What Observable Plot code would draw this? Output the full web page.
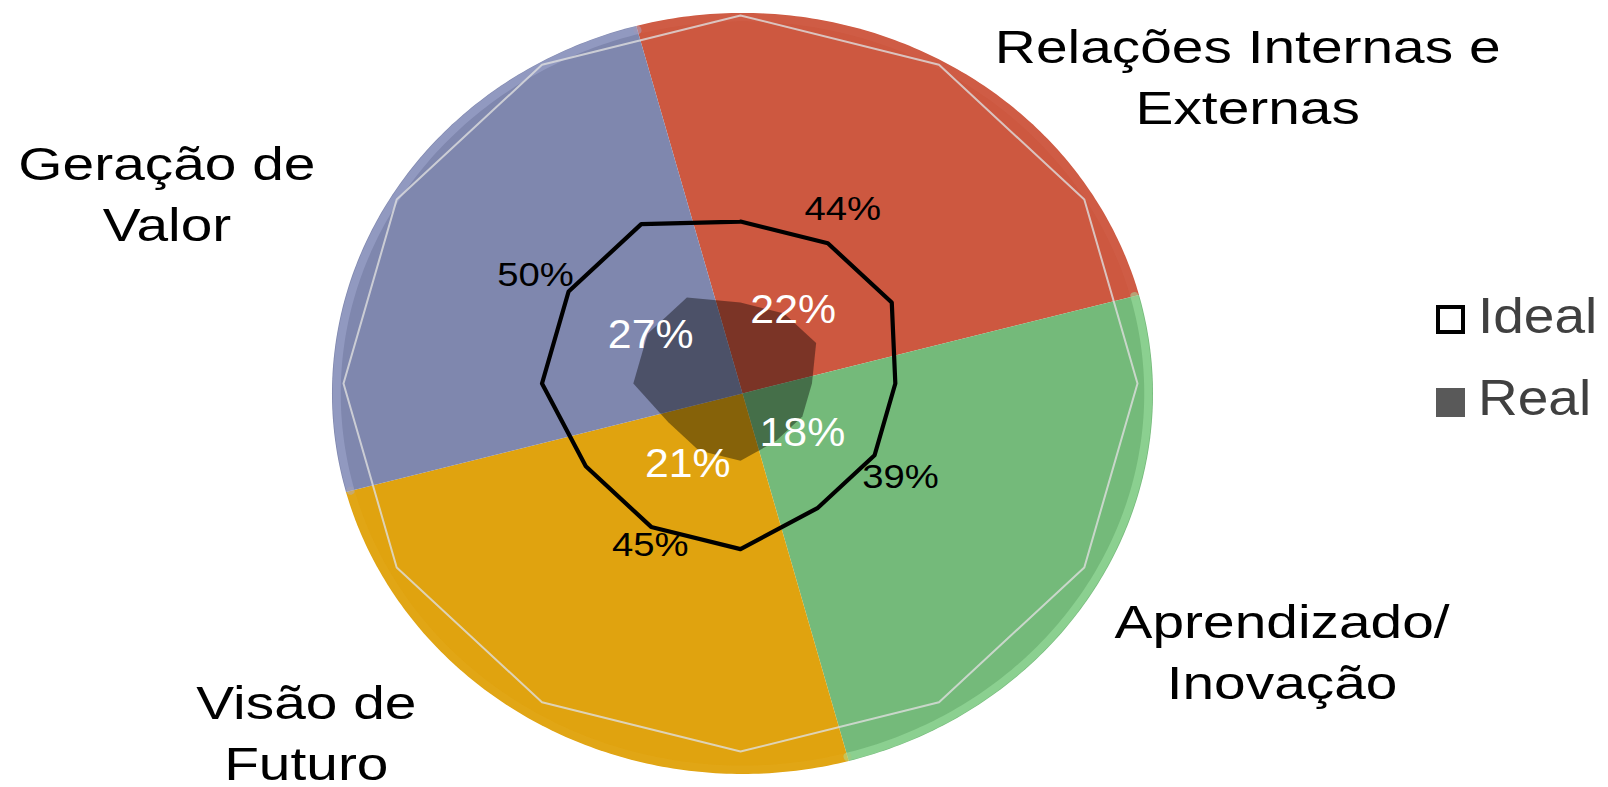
<!DOCTYPE html>
<html>
<head>
<meta charset="utf-8">
<script src="https://cdn.jsdelivr.net/npm/d3@7"></script>
<script src="https://cdn.jsdelivr.net/npm/@observablehq/plot@0.6"></script>
<style>
  html, body { margin: 0; padding: 0; background: #fff; }
  #chart { position: relative; width: 1608px; height: 787px; overflow: hidden;
           font-family: "Liberation Sans", Arial, sans-serif; }
  #legend { position: absolute; left: 1435px; top: 297px; color: #404040; }
  .item { position: relative; height: 82px; }
  .swatch { position: absolute; left: 1px; top: 8px; width: 29px; height: 29px; box-sizing: border-box; }
  .swatch.ideal { border: 4px solid #000; background: #fff; }
  .swatch.real { background: #595959; border: none; top: 9px; }
  .item span { position: absolute; left: 43px; top: -6px; font-size: 50px; line-height: 50px;
               transform: scaleX(1.1); transform-origin: left center; white-space: nowrap; }
</style>
</head>
<body>
<div id="chart"><div id="legend"></div></div>
<script>
// Four dimensions, each spread over three radar spokes
const categories = ["Relações Internas e\nExternas", "Aprendizado/\nInovação", "Visão de\nFuturo", "Geração de\nValor"];
const sliceShares = [25, 25, 25, 25];
const sliceColors = ["#CD5840", "#74BA7A", "#E0A30F", "#7F87AE"];
const spokesPerCategory = 3;
const radarMax = 100;
const idealValues = [44, 44, 44, 39, 39, 39, 45, 45, 45, 50, 50, 50];
const realValues  = [22, 22, 22, 18, 18, 18, 21, 21, 21, 27, 27, 27];
const seriesNames = ["Ideal", "Real"];

// Layout (pixels)
const W = 1608, H = 787;
const cx = 740, cy = 383, rx = 397, ry = 368;
const pieR = 1.034, pieCx = 0.005, pieCy = -0.027;
const categoryNudge = [[269, 123], [129, 95], [-196, 14], [-161, 78]];
const idealNudge = [[15, -23], [26, 33], [-1, 29], [-33, -6]];
const realNudge = [[9, 10], [0, 29], [-11, 27], [3, 14]];

const nSpokes = idealValues.length;
const spokeAngle = i => (2 * Math.PI * i) / nSpokes;
const polar = (r, a) => ({x: r * Math.sin(a), y: r * Math.cos(a)});

function ring(values) {
  const pts = values.map((v, i) => polar(v / radarMax, spokeAngle(i)));
  pts.push(pts[0]);
  return pts;
}
function arcPoints(a, r, withCenter) {
  const pts = withCenter ? [{x: pieCx, y: pieCy}] : [];
  const n = 120;
  for (let k = 0; k <= n; k++) {
    const t = a.startAngle + (a.endAngle - a.startAngle) * k / n;
    pts.push({x: pieCx + r * Math.sin(t), y: pieCy + r * Math.cos(t)});
  }
  if (withCenter) pts.push({x: pieCx, y: pieCy});
  return pts;
}

const arcs = d3.pie().sort(null)
  .startAngle(-Math.PI / 12)
  .endAngle(2 * Math.PI - Math.PI / 12)(sliceShares);

// soft bevel highlight along the rim of each slice
const rimColors = ["#e07a64", "#a2e6a6", "#efbb40", "#a9b0d6"];
const rimOpacity = [0.15, 0.5, 0.12, 0.45];

const font = "Liberation Sans, Arial, sans-serif";
const midSpoke = c => c * spokesPerCategory + 1;

const marks = [];
arcs.forEach((a, i) => {
  marks.push(Plot.line(arcPoints(a, pieR, true), {x: "x", y: "y", fill: sliceColors[i], stroke: "none"}));
});
arcs.forEach((a, i) => {
  marks.push(Plot.line(arcPoints(a, pieR - 0.012, false), {x: "x", y: "y", stroke: rimColors[i], strokeWidth: 8, strokeOpacity: rimOpacity[i]}));
});
// outer gridline of the radar
marks.push(Plot.line(ring(idealValues.map(() => radarMax)), {x: "x", y: "y", stroke: "#dedede", strokeOpacity: 0.8, strokeWidth: 2}));
// Real: filled translucent polygon
marks.push(Plot.line(ring(realValues), {x: "x", y: "y", fill: "#000", fillOpacity: 0.4, stroke: "none"}));
// Ideal: thick black outline
marks.push(Plot.line(ring(idealValues), {x: "x", y: "y", stroke: "#000", strokeWidth: 4.2, strokeLinejoin: "round"}));

categories.forEach((c, ci) => {
  const s = midSpoke(ci);
  const a = spokeAngle(s);
  const pi = polar(idealValues[s] / radarMax, a);
  marks.push(Plot.text([{...pi, t: `${idealValues[s]}%`}], {
    x: "x", y: "y", text: "t", dx: idealNudge[ci][0], dy: idealNudge[ci][1],
    fontSize: 33, fill: "#000", lineAnchor: "bottom", textAnchor: "middle", fontFamily: font
  }));
  const pr = polar(realValues[s] / radarMax, a);
  marks.push(Plot.text([{...pr, t: `${realValues[s]}%`}], {
    x: "x", y: "y", text: "t", dx: realNudge[ci][0], dy: realNudge[ci][1],
    fontSize: 40, fill: "#fff", lineAnchor: "bottom", textAnchor: "middle", fontFamily: font
  }));
  const mid = (arcs[ci].startAngle + arcs[ci].endAngle) / 2;
  const pc = polar(1.2, mid);
  marks.push(Plot.text([{...pc, t: c}], {
    x: "x", y: "y", text: "t", dx: categoryNudge[ci][0], dy: categoryNudge[ci][1],
    fontSize: 47, lineHeight: 1.3, fill: "#000", lineAnchor: "bottom", textAnchor: "middle", fontFamily: font
  }));
});

const chart = Plot.plot({
  width: W, height: H, margin: 0,
  x: {domain: [-1, 1], range: [cx - rx, cx + rx], axis: null},
  y: {domain: [-1, 1], range: [cy + ry, cy - ry], axis: null},
  style: {background: "transparent", fontFamily: font, overflow: "visible"},
  marks
});

// widen glyphs horizontally around their anchors, by font size
const stretchBySize = {"33": 1.16, "40": 1.07, "47": 1.21};
d3.select(chart).selectAll("text").each(function () {
  let g = this.parentNode, size = null;
  while (g && g !== chart && !size) { size = g.getAttribute && g.getAttribute("font-size"); g = g.parentNode; }
  const sx = stretchBySize[String(parseFloat(size))];
  if (!sx) return;
  const t = this.getAttribute("transform") || "";
  const x = +this.getAttribute("x") || 0, y = +this.getAttribute("y") || 0;
  this.setAttribute("transform", `${t} translate(${x},${y}) scale(${sx},1) translate(${-x},${-y})`);
});

const host = document.getElementById("chart");
host.insertBefore(chart, host.firstChild);

const legend = d3.select("#legend");
seriesNames.forEach((name, i) => {
  const item = legend.append("div").attr("class", "item");
  item.append("div").attr("class", "swatch " + (i === 0 ? "ideal" : "real"));
  item.append("span").text(name);
});
</script>
</body>
</html>
